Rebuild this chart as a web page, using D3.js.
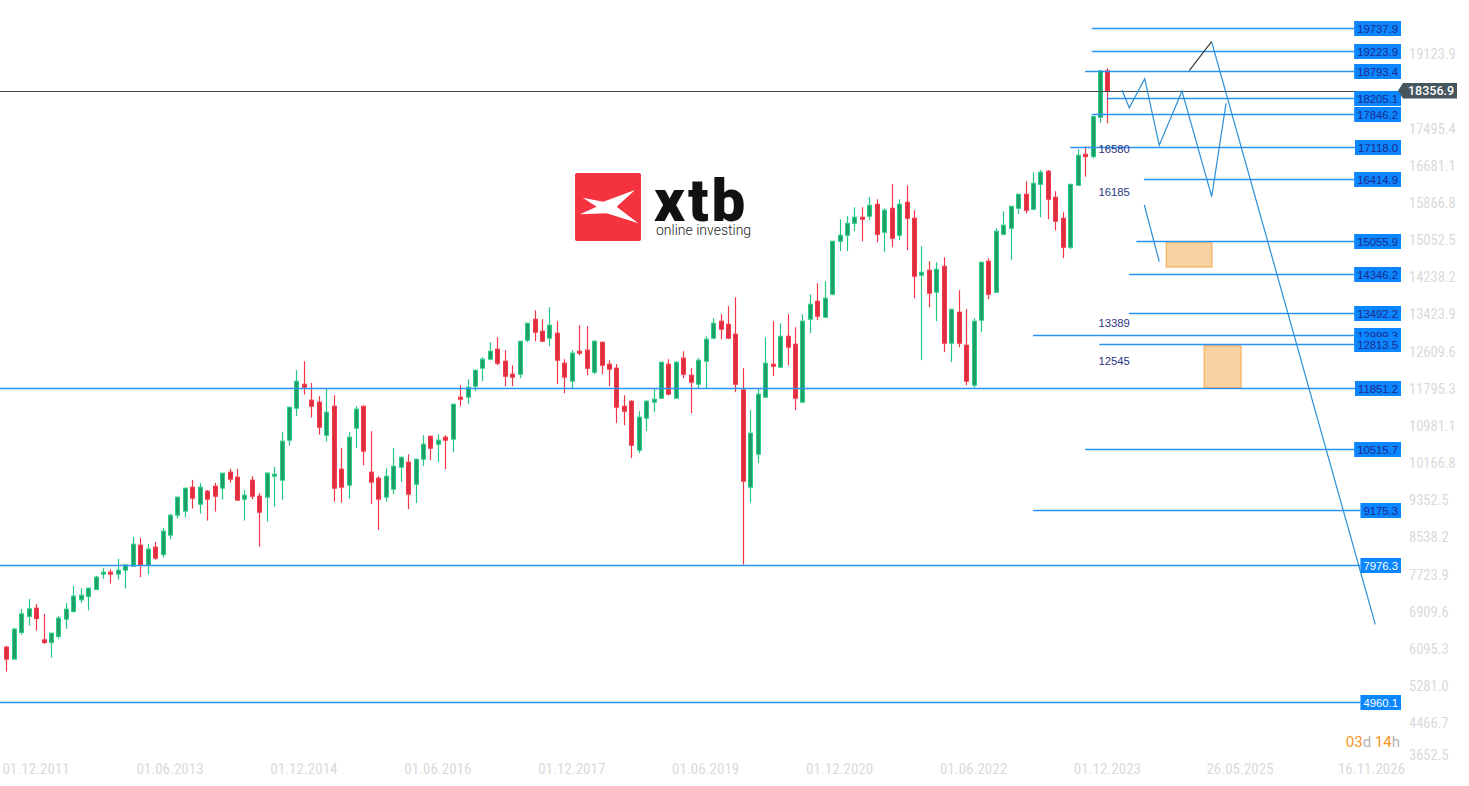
<!DOCTYPE html>
<html><head><meta charset="utf-8">
<script src="https://cdn.jsdelivr.net/npm/d3@7"></script>
<style>html,body{margin:0;padding:0;background:#fff;overflow:hidden}</style>
</head><body>
<svg id="c" width="1469" height="786"></svg>
<script>
// ---------- DATA ----------
const firstCandle = "2011-08"; // monthly candles
const opens = [
6169,5906,6488,6839,7023,6328,6269,6401,6782,6948,
7204,7277,7430,7767,7811,7767,7855,7943,8402,7964,
8359,8197,8621,9059,9147,9673,9300,9585,9694,9651,
10001,9892,9410,9826,9475,9454,9913,9826,10702,11403,
11928,11578,11534,10811,11446,10067,9716,10965,11446,10001,
9870,9454,9629,10110,10220,9738,10286,10789,10614,10768,
10724,11644,11644,11884,12279,12476,12695,12432,12147,12147,
12892,13352,13089,12936,13045,12388,11994,12651,12673,12191,
12848,12366,12279,11446,11556,10483,11184,11534,11622,12366,
11622,12498,12125,11928,12432,12936,13308,13242,13023,11803,
9673,10395,11644,12366,12301,12979,12804,11534,13352,13746,
13396,13899,15060,15191,15454,15586,15608,15870,15257,15783,
15191,15914,15564,14315,14425,13943,14512,12826,13505,12782,
11906,13330,14622,13943,15213,15345,15783,16089,15761,16308,
16593,16024,15564,14928,16286,16965,16913,17776,18793];
const highs = [
6197,6591,7007,7226,7117,6898,6483,6854,7139,7511,
7461,7468,7730,7899,7877,8102,7978,8584,8562,8431,
8475,8781,9088,9461,9658,9832,9767,9613,9767,9986,
10073,10073,9607,9913,9541,10001,10117,10884,11433,12235,
12432,11957,11665,11841,11687,10527,10877,11446,11458,10899,
9913,10089,10527,10338,10395,10293,10811,10798,10833,10811,
11498,11906,12038,12243,12520,12848,12958,12673,12344,12878,
13273,13549,13352,13615,13308,12476,12673,13220,13198,12892,
12858,12454,12366,11687,11578,11337,11578,11841,12418,12476,
12432,12651,12279,12498,12979,13374,13461,13636,13834,12279,
11359,11841,12958,13308,13264,13461,13177,13461,13899,14140,
14184,15068,15542,15607,15805,15805,16024,15980,15783,16315,
15980,16286,15739,14950,14622,14600,14710,13578,13987,13571,
13374,14608,14688,15345,15717,15833,16098,16374,16571,16621,
16621,16155,15695,16318,17075,17140,17798,18805,18849];
const lows = [
5634,5898,6438,6642,6532,6241,5941,6350,6569,6926,
7139,6970,7423,7664,7561,7649,7452,7928,7702,7759,
8080,8131,8534,8985,9007,9204,9094,8941,9138,9401,
9773,9378,8941,9410,8372,8919,9248,9401,10584,11227,
11701,11197,10825,10671,9357,9335,9423,10527,10154,9300,
8737,9357,9519,9782,9191,9322,10132,10264,10220,10067,
10435,11446,11490,11775,11994,12454,12344,11884,11884,12059,
12848,12870,12848,12760,11928,11731,11819,12563,12125,12147,
12147,11884,11074,11030,10308,10417,10899,11315,11608,11687,
11608,12059,11293,11841,11841,12914,12914,12914,11753,7976,
9335,10198,11622,12103,12288,12344,11359,11528,13045,13330,
13388,13877,14841,14841,15279,15060,15520,15038,14819,14928,
15082,14863,13812,12454,13615,13308,12629,12410,12739,11906,
11851,13067,13790,13928,15191,14644,15651,15673,15739,15586,
15542,15301,14688,14885,16278,16475,16878,17657,17644];
const closes = [
5906,6563,6898,7007,6795,6269,6475,6804,7001,7286,
7307,7461,7702,7811,7767,7855,7971,8424,7964,8315,
8118,8709,9059,9454,9651,9432,9673,9410,9475,9979,
9848,9388,9497,9475,9125,9979,9957,10680,11425,11994,
11863,11446,10987,11315,9651,9673,10768,11381,10461,9782,
9410,9913,10132,10329,9519,10286,10614,10527,10702,10702,
11490,11600,11863,12235,12476,12651,12388,12103,12082,12870,
13264,13067,12870,13220,12454,12082,12607,12607,12279,12870,
12344,12257,11425,11337,10592,11206,11556,11600,12410,11709,
12410,12147,11972,12454,12914,13264,13133,12936,11928,9804,
10855,11709,12388,12322,12979,12739,11622,13308,13680,13418,
13812,15060,15191,15454,15586,15542,15848,15213,15739,15126,
15870,15564,14293,14381,13921,14447,12826,13571,12826,11994,
13308,14600,13899,15279,15410,15826,16089,15739,16330,16571,
15980,15498,14928,16308,16943,16913,17789,18793,18356.9];

const xTickLabels = ["01.12.2011","01.06.2013","01.12.2014","01.06.2016","01.12.2017","01.06.2019","01.12.2020","01.06.2022","01.12.2023","26.05.2025","16.11.2026"];
const yTickLabels = ["19123.9","17495.4","16681.1","15866.8","15052.5","14238.2","13423.9","12609.6","11795.3","10981.1","10166.8","9352.5","8538.2","7723.9","6909.6","6095.3","5281.0","4466.7","3652.5"];

const currentPrice = 18356.9;
const levelValues = [19737.9,19223.9,18793.4,18205.1,17846.2,17118.0,16414.9,15055.9,14346.2,13492.2,12999.3,12813.5,11851.2,10515.7,9175.3,7976.3,4960.1];
const levelStartMonths = [145.9,145.9,145.0,147.9,145.9,143.0,152.9,151.9,150.9,150.9,138.0,146.9,-2,145.0,138.0,-2,-2];

const noteTexts = ["16580","16185","13389","12545"];
const noteMonth = 146.8;
const noteValues = [16986,16051,13175,12342];

const zigzagPath = [[149.96,18373],[150.94,17985],[153.01,18621],[154.97,17162],[158.02,18351],[162.02,16036],[163.94,18082]];
const blackSegment = [[159.0,18796],[162.0,19431]];
const dropLine = [[162.0,19431],[184.0,6669]];
const shortLine = [[152.96,15854],[154.97,14612]];
const zones = [[155.9,162.05,15044,14496],[161.0,165.96,12770,11851]];

// ---------- SCALES ----------
const svg = d3.select("#c");
const x = d3.scaleLinear().domain([0, 184]).range([6.3, 6.3 + 184*7.44]);
const y = d3.scaleLinear().domain([4024.7, 20344.7]).range([745, 0]);
function monthNum(s){ const [d,m,yy] = s.split(".").map(Number); return (yy-2011)*12 + (m-1) - 7 + (d-1)/30.44; }

const fontNarrow = "'Liberation Sans Narrow','Roboto Condensed','Arial Narrow',Roboto,sans-serif";

// ---------- LOGO (watermark) ----------
const logo = svg.append("g");
logo.append("rect").attr("x",575).attr("y",173).attr("width",66).attr("height",68).attr("rx",2).attr("fill","#f5333f");
logo.append("path").attr("d","M582.7,197.7 L603.3,201.7 L635,190 L616.7,206.7 L638.3,223.3 L606.7,213.3 L580,214.3 L596.7,206.7 Z").attr("fill","#fff");
logo.append("text").attr("x",654).attr("y",221).attr("font-family","Roboto,'Open Sans',sans-serif").attr("font-weight",900).attr("font-size",60).attr("letter-spacing",3).attr("fill","#111").text("xtb");
logo.append("text").attr("x",656).attr("y",235).attr("font-family","Roboto,sans-serif").attr("font-weight",300).attr("font-size",14).attr("fill","#222").text("online investing");

// ---------- AXES TEXT ----------
const gx = svg.append("g");
xTickLabels.forEach(s => {
  gx.append("text").attr("x", x(monthNum(s))).attr("y",774).attr("text-anchor","middle")
    .attr("font-family",fontNarrow).attr("font-size",15).attr("fill","#dadada").text(s);
});
const gy = svg.append("g");
yTickLabels.forEach(s => {
  const v = parseFloat(s);
  const yy = Math.min(y(v) + 3.5, 760);
  gy.append("text").attr("x",1409).attr("y",yy).attr("font-family",fontNarrow).attr("font-size",14.5).attr("fill","#dadada").text(s);
});

// ---------- CANDLES ----------
const data = opens.map((o,i)=>({i,o,h:highs[i],l:lows[i],c:closes[i]}));
const gc = svg.append("g");
data.forEach(d=>{
  const up = d.c >= d.o;
  const cx = Math.round(x(d.i)) + 0.5;
  gc.append("line").attr("x1",cx).attr("x2",cx).attr("y1",y(d.h)).attr("y2",y(d.l))
    .attr("stroke", up ? "#26c685" : "#f23645").attr("stroke-width",1.2);
  const top = y(Math.max(d.o,d.c)), bot = y(Math.min(d.o,d.c));
  gc.append("rect").attr("x",cx-2).attr("width",4).attr("y",top).attr("height",Math.max(1,bot-top))
    .attr("fill", up ? "#1f9e68" : "#de2f3e").attr("stroke", up ? "#2bcf88" : "#f5394c").attr("stroke-width",1);
});

// ---------- CURRENT PRICE LINE ----------
svg.append("line").attr("x1",0).attr("x2",1400).attr("y1",Math.round(y(currentPrice))+0.5).attr("y2",Math.round(y(currentPrice))+0.5)
  .attr("stroke","#3d4b53").attr("stroke-width",1);

// ---------- ZONES ----------
zones.forEach(z=>{
  svg.append("rect").attr("x",x(z[0])).attr("width",x(z[1])-x(z[0])).attr("y",y(z[2])).attr("height",y(z[3])-y(z[2]))
    .attr("fill","#f9d2a2").attr("stroke","#f6a445").attr("stroke-width",1);
});

// ---------- LEVEL LINES ----------
const gl = svg.append("g");
const whiteText = new Set([7976.3, 4960.1]);
levelValues.forEach((v,k)=>{
  const yy = Math.round(y(v)) + 0.5;
  const g = gl.append("g");
  const t = g.append("text").attr("x",1398).attr("y",yy+4).attr("text-anchor","end")
    .attr("font-family","'Liberation Sans',Arial,sans-serif").attr("font-size",11.3)
    .attr("fill", whiteText.has(v) ? "#ffffff" : "#1f2a8a").text(v.toFixed(1));
  const w = t.node().getComputedTextLength();
  const bx = 1401 - w - 6;
  g.insert("rect","text").attr("x",bx).attr("y",yy-7.5).attr("width",1401-bx).attr("height",15).attr("fill","#0a86ff");
  const x0 = Math.max(0, x(levelStartMonths[k]));
  g.insert("line","rect").attr("x1",x0).attr("x2",bx).attr("y1",yy).attr("y2",yy)
    .attr("stroke","#2a93f2").attr("stroke-width",1.3);
});

// ---------- FORECAST PATHS ----------
const line = d3.line().x(p=>x(p[0])).y(p=>y(p[1]));
[zigzagPath, dropLine, shortLine].forEach(p=>{
  svg.append("path").attr("d",line(p)).attr("fill","none").attr("stroke","#2b8fd8").attr("stroke-width",1.2);
});
svg.append("path").attr("d",line(blackSegment)).attr("fill","none").attr("stroke","#333").attr("stroke-width",1.1);

// ---------- NOTES ----------
noteTexts.forEach((s,k)=>{
  svg.append("text").attr("x",x(noteMonth)).attr("y",y(noteValues[k])).attr("font-family","'Liberation Sans',Arial,sans-serif")
    .attr("font-size",11.3).attr("fill","#2b3585").text(s);
});

// ---------- CURRENT PRICE LABEL ----------
const cy = y(currentPrice);
svg.append("path").attr("d",`M1398,${cy} L1403,${cy-7.8} L1457,${cy-7.8} L1457,${cy+7.8} L1403,${cy+7.8} Z`).attr("fill","#46555e");
svg.append("text").attr("x",1408).attr("y",cy+4.5).attr("font-family","Roboto,sans-serif").attr("font-weight",500).attr("font-size",12.5).attr("fill","#fff").text(currentPrice.toFixed(1));

// ---------- COUNTDOWN ----------
const cd = svg.append("text").attr("x",1400).attr("y",747).attr("text-anchor","end").attr("font-family","Roboto,sans-serif").attr("font-size",15);
cd.append("tspan").attr("fill","#f7931e").text("03");
cd.append("tspan").attr("fill","#b5b5b5").text("d ");
cd.append("tspan").attr("fill","#f7931e").text("14");
cd.append("tspan").attr("fill","#b5b5b5").text("h");
</script>
</body></html>
